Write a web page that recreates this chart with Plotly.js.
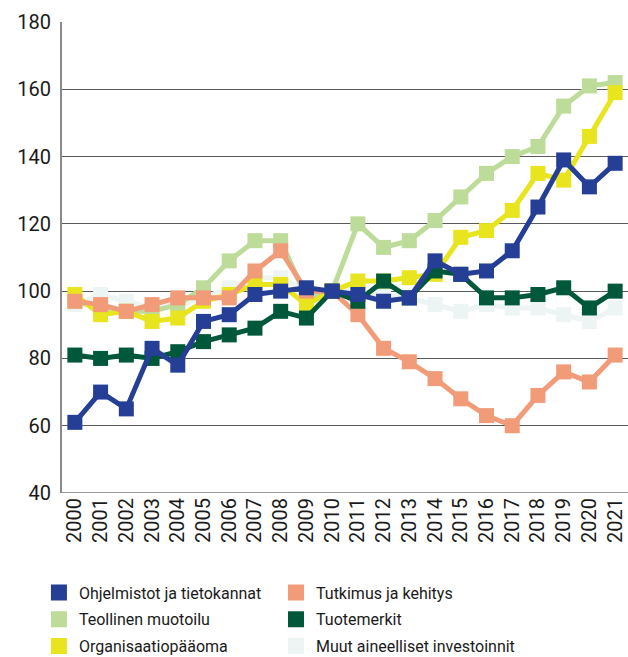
<!DOCTYPE html>
<html>
<head>
<meta charset="utf-8">
<script src="https://cdn.plot.ly/plotly-3.0.1.min.js"></script>
<style>
  html, body { margin: 0; padding: 0; background: #fff; }
  #chart { width: 628px; height: 657px; }
</style>
</head>
<body>
<div id="chart"></div>
<script>
const years = ['2000', '2001', '2002', '2003', '2004', '2005', '2006', '2007', '2008', '2009', '2010',
  '2011', '2012', '2013', '2014', '2015', '2016', '2017', '2018', '2019', '2020', '2021'];

const ohjelmistot = [61, 70, 65, 83, 78, 91, 93, 99, 100, 101, 100, 99, 97, 98, 109, 105, 106, 112, 125, 139, 131, 138];
const teollinen = [97, 95, 94, 94, 96, 101, 109, 115, 115, 98, 100, 120, 113, 115, 121, 128, 135, 140, 143, 155, 161, 162];
const organisaatio = [99, 93, 94, 91, 92, 97, 99, 102, 102, 96, 100, 103, 103, 104, 105, 116, 118, 124, 135, 133, 146, 159];
const tutkimus = [97, 96, 94, 96, 98, 98, 98, 106, 112, 100, 100, 93, 83, 79, 74, 68, 63, 60, 69, 76, 73, 81];
const tuotemerkit = [81, 80, 81, 80, 82, 85, 87, 89, 94, 92, 100, 97, 103, 98, 106, 105, 98, 98, 99, 101, 95, 100];
const muut = [96, 99, 97, 95, 96, 98, 101, 104, 104, 100, 100, 100, 99, 98, 96, 94, 96, 95, 95, 93, 91, 95];

const yTicks = [40, 60, 80, 100, 120, 140, 160, 180];

// piirtojärjestys: alin ensin
const series = [
  { name: 'Muut aineelliset investoinnit', y: muut, color: '#edf4f4', legend: 'legend2' },
  { name: 'Teollinen muotoilu', y: teollinen, color: '#bddc99', legend: 'legend' },
  { name: 'Organisaatiopääoma', y: organisaatio, color: '#e8e41d', legend: 'legend' },
  { name: 'Tutkimus ja kehitys', y: tutkimus, color: '#f29b79', legend: 'legend2' },
  { name: 'Tuotemerkit', y: tuotemerkit, color: '#00583a', legend: 'legend2' },
  { name: 'Ohjelmistot ja tietokannat', y: ohjelmistot, color: '#253f96', legend: 'legend' }
];

// selitteen järjestys, kaksi saraketta
const legendOrder = ['Ohjelmistot ja tietokannat', 'Teollinen muotoilu', 'Organisaatiopääoma',
  'Tutkimus ja kehitys', 'Tuotemerkit', 'Muut aineelliset investoinnit'];

const font = 'Roboto, sans-serif';

const lineTraces = series.map(s => ({
  x: years,
  y: s.y,
  type: 'scatter',
  mode: 'lines+markers',
  name: s.name,
  showlegend: false,
  line: { color: s.color, width: 5 },
  marker: { color: s.color, symbol: 'square', size: 15 },
  hoverinfo: 'x+y+name'
}));

const legendTraces = legendOrder.map((n, i) => {
  const s = series.find(d => d.name === n);
  return {
    x: [null],
    y: [null],
    type: 'scatter',
    mode: 'markers',
    name: s.name,
    legend: s.legend,
    legendgroup: 'g' + i,
    marker: { color: s.color, symbol: 'square', size: 18 },
    hoverinfo: 'skip'
  };
});

const legendBase = {
  orientation: 'v',
  xref: 'container',
  yref: 'container',
  xanchor: 'left',
  y: 0.124,
  yanchor: 'top',
  font: { size: 16, color: '#1a1a1a' },
  itemsizing: 'trace',
  traceorder: 'grouped',
  tracegroupgap: 3
};

const layout = {
  width: 628,
  height: 657,
  margin: { l: 62, r: 0, t: 22, b: 164, autoexpand: false },
  paper_bgcolor: '#fff',
  plot_bgcolor: '#fff',
  font: { family: font, size: 17, color: '#1a1a1a' },
  xaxis: {
    type: 'category',
    range: [-0.5, years.length - 0.5],
    tickangle: -90,
    tickfont: { size: 20 },
    showgrid: false,
    ticks: '',
    showline: false,
    zeroline: false,
    automargin: false
  },
  yaxis: {
    range: [40, 180],
    tickvals: yTicks,
    tickfont: { size: 20 },
    showgrid: true,
    gridcolor: '#5a5a5a',
    gridwidth: 1,
    showline: true,
    linecolor: '#8a8a8a',
    linewidth: 2,
    zeroline: false,
    ticks: '',
    automargin: false,
    ticklabelstandoff: 5
  },
  shapes: [{
    type: 'line', xref: 'paper', yref: 'y', x0: 0, x1: 1, y0: 40, y1: 40,
    line: { color: '#999', width: 2 }
  }],
  showlegend: true,
  legend: Object.assign({}, legendBase, { x: 0.062 }),
  legend2: Object.assign({}, legendBase, { x: 0.4395 })
};

Plotly.newPlot('chart', [...lineTraces, ...legendTraces], layout, { displayModeBar: false, staticPlot: true });
</script>
</body>
</html>
